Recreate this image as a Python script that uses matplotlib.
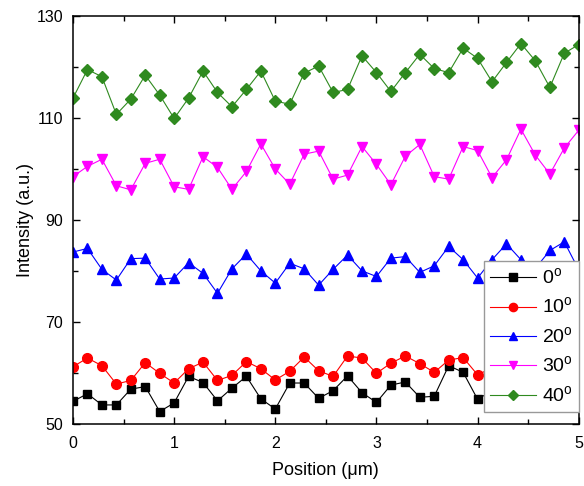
"""Intensity profiles along position for several angles"""
import numpy as np
import matplotlib
matplotlib.use("Agg")
import matplotlib.pyplot as plt
from matplotlib.ticker import MultipleLocator

# -----------------------------------------------------------------------------
# Data

position = np.linspace(0, 5, 36)

int_0 = [54.4, 55.9, 53.7, 53.7, 56.8, 57.3, 52.4, 54.1, 59.3, 58.1,
         54.5, 57.0, 59.3, 54.9, 52.9, 58.0, 58.0, 55.0, 56.5, 59.4,
         56.1, 54.2, 57.6, 58.2, 55.2, 55.4, 61.4, 60.1, 54.8, 56.5,
         58.5, 55.5, 57.0, 58.0, 60.0, 59.0]
int_10 = [61.2, 62.9, 61.4, 57.8, 58.5, 62.0, 59.9, 58.0, 60.8, 62.1,
          58.5, 59.5, 62.2, 60.8, 58.6, 60.3, 63.1, 60.4, 59.3, 63.3,
          62.9, 59.9, 61.9, 63.3, 61.8, 60.1, 62.5, 63.0, 59.6, 61.0,
          62.5, 59.5, 61.0, 60.0, 65.8, 62.4]
int_20 = [83.7, 84.4, 80.3, 78.2, 82.4, 82.5, 78.4, 78.6, 81.6, 79.5,
          75.6, 80.4, 83.3, 80.0, 77.6, 81.5, 80.4, 77.2, 80.3, 83.1,
          80.0, 78.9, 82.5, 82.8, 79.7, 81.0, 84.8, 82.2, 78.6, 82.2,
          85.3, 82.2, 80.5, 84.0, 85.7, 80.2]
int_30 = [98.5, 100.5, 101.9, 96.7, 95.9, 101.1, 101.9, 96.5, 96.0, 102.4,
          100.3, 96.0, 99.5, 104.9, 100.0, 97.0, 102.9, 103.5, 98.0, 98.8,
          104.4, 100.9, 96.9, 102.5, 104.8, 98.5, 98.0, 104.4, 103.6, 98.3,
          101.8, 107.8, 102.7, 99.0, 104.1, 107.6]
int_40 = [113.9, 119.5, 118.1, 110.7, 113.7, 118.4, 114.5, 109.9, 113.9, 119.2,
          115.0, 112.2, 115.6, 119.2, 113.3, 112.7, 118.8, 120.2, 115.0, 115.6,
          122.2, 118.9, 115.2, 118.9, 122.5, 119.7, 118.9, 123.7, 121.7, 117.1,
          120.9, 124.6, 121.2, 116.0, 122.7, 124.4]

labels = ["0$^{\\rm o}$", "10$^{\\rm o}$", "20$^{\\rm o}$",
          "30$^{\\rm o}$", "40$^{\\rm o}$"]
y_ticks = [50, 70, 90, 110, 130]
y_minor = [60, 80, 100, 120]

# -----------------------------------------------------------------------------
# Plot

plt.rcParams["font.family"] = ["Liberation Sans", "DejaVu Sans"]
plt.rcParams["mathtext.fontset"] = "custom"
plt.rcParams["mathtext.rm"] = "Liberation Sans"

series = [int_0, int_10, int_20, int_30, int_40]
colors = ["#000000", "#ff0000", "#0000ff", "#ff00ff", "#2f8a1f"]
markers = ["s", "o", "^", "v", "D"]
sizes = [6.3, 7, 7.5, 7.5, 6.5]

fig = plt.figure(figsize=(5.84, 4.86), dpi=100)
ax = fig.add_axes([0.125, 0.128, 0.866, 0.839])

for y, c, m, s, lab in zip(series, colors, markers, sizes, labels):
    ax.plot(position, y, color=c, marker=m, markersize=s, linewidth=0.8,
            markeredgecolor=c, label=lab)

ax.set_xlim(0, 5)
ax.set_ylim(50, 130)
ax.xaxis.set_major_locator(MultipleLocator(1))
ax.xaxis.set_minor_locator(MultipleLocator(0.5))
ax.set_yticks(y_ticks)
ax.set_yticks(y_minor, minor=True)
ax.tick_params(which="both", direction="in", top=True, right=True,
               labelsize=11.5)
ax.tick_params(axis="x", which="major", pad=9)
ax.tick_params(axis="y", which="major", pad=7)
ax.tick_params(which="major", length=5, width=1)
ax.tick_params(which="minor", length=3.5, width=1)
for sp in ax.spines.values():
    sp.set_linewidth(1.1)

ax.set_xlabel("Position (\u03bcm)", fontsize=13, labelpad=8)
ax.set_ylabel("Intensity (a.u.)", fontsize=13, labelpad=2)

leg = ax.legend(loc="lower right", bbox_to_anchor=(1.0, 0.03),
                borderaxespad=0, fontsize=14, fancybox=False,
                framealpha=1, edgecolor="#999999", handlelength=2.4,
                handletextpad=0.3, labelspacing=0.45, borderpad=0.3,
                markerscale=0.85)
leg.get_frame().set_linewidth(1.0)

fig.savefig("out.png", dpi=100)
